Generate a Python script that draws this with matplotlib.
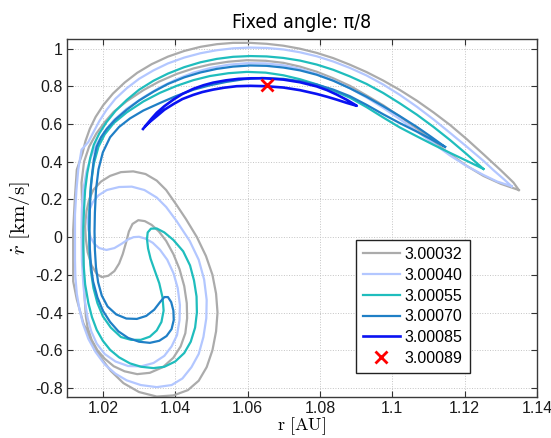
"""
Phase-space slices at a fixed angle of pi/8: radial velocity vs radius
for several Jacobi-constant levels.
"""

import matplotlib
matplotlib.use("Agg")
import matplotlib.pyplot as plt

# --- data ------------------------------------------------------------------
labels = ["3.00032", "3.00040", "3.00055", "3.00070", "3.00085", "3.00089"]

gray_r = [1.1350, 1.1335, 1.1300, 1.1252, 1.1206, 1.1160, 1.1114, 1.1068, 1.1021, 1.0975,
          1.0929, 1.0883, 1.0837, 1.0791, 1.0745, 1.0699, 1.0653, 1.0607, 1.0560, 1.0515,
          1.0470, 1.0425, 1.0380, 1.0335, 1.0295, 1.0260, 1.0228, 1.0201, 1.0180, 1.0164,
          1.0152, 1.0144, 1.0128, 1.0123, 1.0118, 1.0118, 1.0118, 1.0128, 1.0146, 1.0168,
          1.0192, 1.0222, 1.0257, 1.0300, 1.0349, 1.0395, 1.0435, 1.0465, 1.0487, 1.0503,
          1.0513, 1.0517, 1.0513, 1.0503, 1.0485, 1.0460, 1.0430, 1.0404, 1.0375, 1.0349,
          1.0318, 1.0284, 1.0250, 1.0220, 1.0195, 1.0174, 1.0162, 1.0155, 1.0151, 1.0153,
          1.0158, 1.0169, 1.0183, 1.0197, 1.0215, 1.0232, 1.0245, 1.0255, 1.0264, 1.0272,
          1.0282, 1.0298, 1.0316, 1.0335, 1.0355, 1.0375, 1.0395, 1.0412, 1.0425, 1.0432,
          1.0433, 1.0428, 1.0415, 1.0395, 1.0366, 1.0330, 1.0295, 1.0260, 1.0230, 1.0205,
          1.0185, 1.0169, 1.0158, 1.0153, 1.0150, 1.0148, 1.0146, 1.0145, 1.0143, 1.0141,
          1.0148, 1.0162, 1.0182, 1.0205, 1.0230, 1.0265, 1.0312, 1.0355, 1.0404, 1.0450,
          1.0496, 1.0547, 1.0598, 1.0650, 1.0699, 1.0745, 1.0791, 1.0837, 1.0883, 1.0929,
          1.0975, 1.1021, 1.1068, 1.1114, 1.1160, 1.1206, 1.1252, 1.1300, 1.1350]
gray_v = [0.250, 0.290, 0.355, 0.440, 0.520, 0.595, 0.662, 0.724, 0.781, 0.831,
          0.876, 0.915, 0.950, 0.978, 1.000, 1.016, 1.026, 1.031, 1.031, 1.024,
          1.010, 0.988, 0.958, 0.918, 0.872, 0.820, 0.762, 0.700, 0.638, 0.575,
          0.510, 0.447, 0.358, 0.216, 0.039, -0.100, -0.235, -0.330, -0.456, -0.550,
          -0.634, -0.710, -0.775, -0.822, -0.846, -0.840, -0.812, -0.762, -0.690, -0.600,
          -0.500, -0.400, -0.300, -0.200, -0.100, 0.000, 0.095, 0.170, 0.250, 0.300,
          0.335, 0.349, 0.345, 0.325, 0.295, 0.252, 0.200, 0.140, 0.057, -0.010,
          -0.080, -0.150, -0.195, -0.212, -0.205, -0.180, -0.140, -0.090, -0.030, 0.030,
          0.070, 0.090, 0.085, 0.065, 0.030, -0.020, -0.090, -0.170, -0.260, -0.350,
          -0.430, -0.510, -0.580, -0.640, -0.690, -0.720, -0.727, -0.712, -0.685, -0.645,
          -0.600, -0.545, -0.480, -0.421, -0.330, -0.244, -0.100, 0.022, 0.150, 0.288,
          0.400, 0.480, 0.550, 0.610, 0.665, 0.720, 0.780, 0.825, 0.866, 0.895,
          0.916, 0.931, 0.939, 0.936, 0.925, 0.905, 0.878, 0.843, 0.803, 0.752,
          0.700, 0.640, 0.576, 0.507, 0.440, 0.378, 0.325, 0.283, 0.250]

lav_r = [1.1330, 1.1307, 1.1280, 1.1252, 1.1206, 1.1160, 1.1114, 1.1068, 1.1021, 1.0975,
         1.0929, 1.0883, 1.0837, 1.0791, 1.0745, 1.0699, 1.0653, 1.0607, 1.0560, 1.0515,
         1.0470, 1.0425, 1.0380, 1.0340, 1.0300, 1.0266, 1.0235, 1.0210, 1.0190, 1.0172,
         1.0160, 1.0141, 1.0132, 1.0127, 1.0123, 1.0123, 1.0123, 1.0124, 1.0128, 1.0135,
         1.0145, 1.0160, 1.0180, 1.0205, 1.0235, 1.0266, 1.0305, 1.0349, 1.0390, 1.0420,
         1.0445, 1.0465, 1.0478, 1.0486, 1.0487, 1.0480, 1.0465, 1.0440, 1.0404, 1.0375,
         1.0349, 1.0315, 1.0280, 1.0245, 1.0211, 1.0188, 1.0172, 1.0162, 1.0158, 1.0160,
         1.0166, 1.0176, 1.0190, 1.0210, 1.0232, 1.0252, 1.0270, 1.0285, 1.0300, 1.0318,
         1.0338, 1.0358, 1.0378, 1.0395, 1.0407, 1.0413, 1.0412, 1.0405, 1.0390, 1.0370,
         1.0340, 1.0305, 1.0270, 1.0235, 1.0205, 1.0183, 1.0168, 1.0158, 1.0151, 1.0146,
         1.0142, 1.0141, 1.0142, 1.0146, 1.0155, 1.0168, 1.0185, 1.0205, 1.0230, 1.0265,
         1.0312, 1.0358, 1.0404, 1.0450, 1.0496, 1.0547, 1.0598, 1.0650, 1.0699, 1.0745,
         1.0791, 1.0837, 1.0883, 1.0929, 1.0975, 1.1021, 1.1068, 1.1114, 1.1160, 1.1206,
         1.1252, 1.1290, 1.1330]
lav_v = [0.270, 0.310, 0.355, 0.405, 0.480, 0.553, 0.625, 0.692, 0.755, 0.810,
         0.858, 0.898, 0.932, 0.960, 0.981, 0.996, 1.004, 1.006, 1.002, 0.992,
         0.976, 0.953, 0.922, 0.885, 0.840, 0.790, 0.735, 0.675, 0.615, 0.550,
         0.505, 0.464, 0.358, 0.250, 0.120, 0.000, -0.120, -0.209, -0.300, -0.380,
         -0.460, -0.540, -0.610, -0.675, -0.725, -0.760, -0.785, -0.796, -0.785, -0.750,
         -0.690, -0.620, -0.530, -0.430, -0.333, -0.225, -0.120, -0.020, 0.085, 0.160,
         0.210, 0.250, 0.268, 0.266, 0.250, 0.222, 0.185, 0.140, 0.090, 0.040,
         0.000, -0.035, -0.058, -0.068, -0.058, -0.035, -0.012, 0.000, 0.002, -0.008,
         -0.030, -0.067, -0.120, -0.190, -0.270, -0.360, -0.440, -0.520, -0.580, -0.630,
         -0.668, -0.686, -0.684, -0.660, -0.620, -0.565, -0.500, -0.430, -0.350, -0.250,
         -0.120, 0.022, 0.150, 0.252, 0.350, 0.430, 0.500, 0.560, 0.620, 0.680,
         0.742, 0.795, 0.838, 0.873, 0.897, 0.915, 0.923, 0.922, 0.912, 0.893,
         0.866, 0.832, 0.790, 0.741, 0.686, 0.626, 0.562, 0.497, 0.433, 0.377,
         0.330, 0.295, 0.270]

teal_r = [1.1252, 1.1206, 1.1160, 1.1114, 1.1068, 1.1021, 1.0975, 1.0929, 1.0883, 1.0837,
          1.0791, 1.0745, 1.0699, 1.0653, 1.0607, 1.0560, 1.0515, 1.0470, 1.0425, 1.0380,
          1.0340, 1.0300, 1.0266, 1.0235, 1.0210, 1.0190, 1.0175, 1.0165, 1.0157, 1.0151,
          1.0148, 1.0146, 1.0146, 1.0147, 1.0151, 1.0160, 1.0170, 1.0183, 1.0200, 1.0220,
          1.0245, 1.0275, 1.0306, 1.0340, 1.0370, 1.0400, 1.0425, 1.0443, 1.0455, 1.0460,
          1.0459, 1.0452, 1.0441, 1.0422, 1.0395, 1.0370, 1.0349, 1.0333, 1.0324, 1.0322,
          1.0325, 1.0332, 1.0343, 1.0356, 1.0365, 1.0368, 1.0362, 1.0349, 1.0330, 1.0305,
          1.0278, 1.0250, 1.0222, 1.0200, 1.0185, 1.0174, 1.0167, 1.0163, 1.0162, 1.0163,
          1.0167, 1.0175, 1.0188, 1.0205, 1.0230, 1.0266, 1.0312, 1.0358, 1.0404, 1.0450,
          1.0496, 1.0547, 1.0598, 1.0650, 1.0699, 1.0745, 1.0791, 1.0837, 1.0883, 1.0929,
          1.0975, 1.1021, 1.1068, 1.1114, 1.1160, 1.1206, 1.1252]
teal_v = [0.362, 0.440, 0.515, 0.585, 0.650, 0.710, 0.765, 0.813, 0.853, 0.888,
          0.916, 0.937, 0.951, 0.959, 0.961, 0.957, 0.946, 0.928, 0.902, 0.868,
          0.830, 0.782, 0.728, 0.670, 0.610, 0.550, 0.490, 0.420, 0.340, 0.250,
          0.150, 0.050, -0.050, -0.150, -0.250, -0.350, -0.425, -0.492, -0.550, -0.598,
          -0.638, -0.670, -0.688, -0.695, -0.688, -0.660, -0.615, -0.555, -0.480, -0.400,
          -0.315, -0.230, -0.150, -0.075, -0.015, 0.025, 0.046, 0.045, 0.025, -0.010,
          -0.060, -0.115, -0.175, -0.245, -0.320, -0.390, -0.450, -0.495, -0.528, -0.545,
          -0.545, -0.530, -0.480, -0.420, -0.350, -0.270, -0.180, -0.080, 0.030, 0.150,
          0.280, 0.390, 0.480, 0.545, 0.605, 0.662, 0.720, 0.766, 0.803, 0.833,
          0.855, 0.870, 0.877, 0.873, 0.859, 0.838, 0.811, 0.778, 0.740, 0.690,
          0.635, 0.582, 0.535, 0.490, 0.447, 0.405, 0.362]

mid_r = [1.1146, 1.1107, 1.1068, 1.1021, 1.0975, 1.0929, 1.0883, 1.0837, 1.0791, 1.0745,
         1.0699, 1.0653, 1.0607, 1.0560, 1.0515, 1.0470, 1.0425, 1.0380, 1.0340, 1.0300,
         1.0266, 1.0235, 1.0211, 1.0195, 1.0183, 1.0175, 1.0170, 1.0166, 1.0164, 1.0163,
         1.0164, 1.0167, 1.0173, 1.0185, 1.0200, 1.0220, 1.0243, 1.0270, 1.0300, 1.0330,
         1.0356, 1.0376, 1.0390, 1.0396, 1.0395, 1.0389, 1.0380, 1.0370, 1.0358, 1.0342,
         1.0320, 1.0294, 1.0265, 1.0237, 1.0213, 1.0197, 1.0187, 1.0181, 1.0178, 1.0177,
         1.0178, 1.0181, 1.0188, 1.0200, 1.0220, 1.0245, 1.0275, 1.0312, 1.0358, 1.0404,
         1.0450, 1.0496, 1.0542, 1.0590, 1.0640, 1.0699, 1.0745, 1.0791, 1.0837, 1.0883,
         1.0929, 1.0975, 1.1021, 1.1068, 1.1107, 1.1146]
mid_v = [0.479, 0.533, 0.585, 0.642, 0.695, 0.745, 0.790, 0.830, 0.862, 0.885,
         0.900, 0.909, 0.911, 0.905, 0.893, 0.874, 0.848, 0.813, 0.772, 0.725,
         0.676, 0.625, 0.575, 0.530, 0.480, 0.410, 0.330, 0.240, 0.140, 0.040,
         -0.060, -0.150, -0.235, -0.320, -0.390, -0.450, -0.500, -0.535, -0.555, -0.561,
         -0.550, -0.525, -0.488, -0.440, -0.390, -0.345, -0.318, -0.318, -0.345, -0.385,
         -0.418, -0.434, -0.432, -0.410, -0.368, -0.310, -0.240, -0.160, -0.067, 0.030,
         0.130, 0.250, 0.360, 0.450, 0.530, 0.585, 0.630, 0.672, 0.712, 0.750,
         0.782, 0.806, 0.824, 0.838, 0.845, 0.840, 0.828, 0.810, 0.783, 0.748,
         0.702, 0.652, 0.605, 0.560, 0.520, 0.479]

blue_r = [1.0311, 1.0322, 1.0335, 1.0349, 1.0370, 1.0395, 1.0420, 1.0450, 1.0478, 1.0505,
          1.0540, 1.0575, 1.0610, 1.0650, 1.0699, 1.0745, 1.0791, 1.0820, 1.0846, 1.0875,
          1.0902, 1.0875, 1.0846, 1.0820, 1.0791, 1.0745, 1.0699, 1.0650, 1.0607, 1.0570,
          1.0535, 1.0505, 1.0475, 1.0450, 1.0420, 1.0395, 1.0370, 1.0349, 1.0330, 1.0318]
blue_v = [0.574, 0.600, 0.630, 0.660, 0.695, 0.730, 0.760, 0.787, 0.806, 0.820,
          0.832, 0.840, 0.843, 0.843, 0.836, 0.822, 0.800, 0.780, 0.757, 0.728,
          0.697, 0.712, 0.730, 0.745, 0.760, 0.780, 0.794, 0.801, 0.803, 0.801,
          0.793, 0.783, 0.770, 0.755, 0.733, 0.706, 0.676, 0.642, 0.612, 0.590]

cross_r = [1.0655]
cross_v = [0.807]

colors = ["#ababab", "#b3c7ff", "#1fbdbd", "#1f7fc6", "#0a12f2"]

xticks = [1.02, 1.04, 1.06, 1.08, 1.10, 1.12, 1.14]
xtick_labels = ["1.02", "1.04", "1.06", "1.08", "1.1", "1.12", "1.14"]
yticks = [-0.8, -0.6, -0.4, -0.2, 0.0, 0.2, 0.4, 0.6, 0.8, 1.0]
ytick_labels = ["-0.8", "-0.6", "-0.4", "-0.2", "0", "0.2", "0.4", "0.6", "0.8", "1"]


def main():
    plt.rcParams["font.family"] = ["Liberation Sans", "DejaVu Sans"]
    plt.rcParams["mathtext.fontset"] = "cm"

    fig = plt.figure(figsize=(5.51, 4.38), dpi=100)
    ax = fig.add_axes([0.121, 0.0929, 0.8535, 0.8174])

    curves = [(gray_r, gray_v), (lav_r, lav_v), (teal_r, teal_v),
              (mid_r, mid_v), (blue_r, blue_v)]
    for (r, v), c, lab in zip(curves, colors, labels[:5]):
        lw = 1.9 if lab == "3.00085" else 1.6
        ax.plot(r, v, color=c, lw=lw, label=lab, solid_joinstyle="round")

    ax.plot(cross_r, cross_v, ls="none", marker="x", color="red",
            markersize=8, mew=2, label=labels[5])

    ax.set_xlim(1.01, 1.14)
    ax.set_ylim(-0.85, 1.05)
    ax.set_xticks(xticks)
    ax.set_xticklabels(xtick_labels)
    ax.set_yticks(yticks)
    ax.set_yticklabels(ytick_labels)

    # MATLAB-like box: inward ticks on every side, dotted grid
    ax.tick_params(direction="in", length=4, width=0.8, top=True, right=True,
                   labelsize=11.5, colors="#333333", labelcolor="#1a1a1a")
    ax.tick_params(axis="x", pad=2.5)
    ax.tick_params(axis="y", pad=3)
    ax.grid(True, ls=":", lw=0.7, color="#c4c4c4")
    for sp in ax.spines.values():
        sp.set_color("#3a3a3a")
        sp.set_linewidth(1.0)

    ax.set_xlabel(r"$\mathrm{r}\ [\mathrm{AU}]$", fontsize=13, labelpad=-0.5)
    ax.set_ylabel(r"$\dot{r}\ [\mathrm{km/s}]$", fontsize=15, labelpad=2)
    ax.set_title("Fixed angle: π/8", fontsize=14, family="DejaVu Sans",
                 fontstretch="condensed", pad=8)

    leg = ax.legend(loc="lower left", bbox_to_anchor=(0.615, 0.068),
                    borderaxespad=0, fontsize=11.5, handlelength=2.3,
                    handletextpad=0.3, labelspacing=0.36, borderpad=0.45,
                    fancybox=False, framealpha=1, edgecolor="#222222")
    leg.get_frame().set_linewidth(1.0)

    fig.savefig("out.png", dpi=100)
    plt.close(fig)


if __name__ == "__main__":
    main()
